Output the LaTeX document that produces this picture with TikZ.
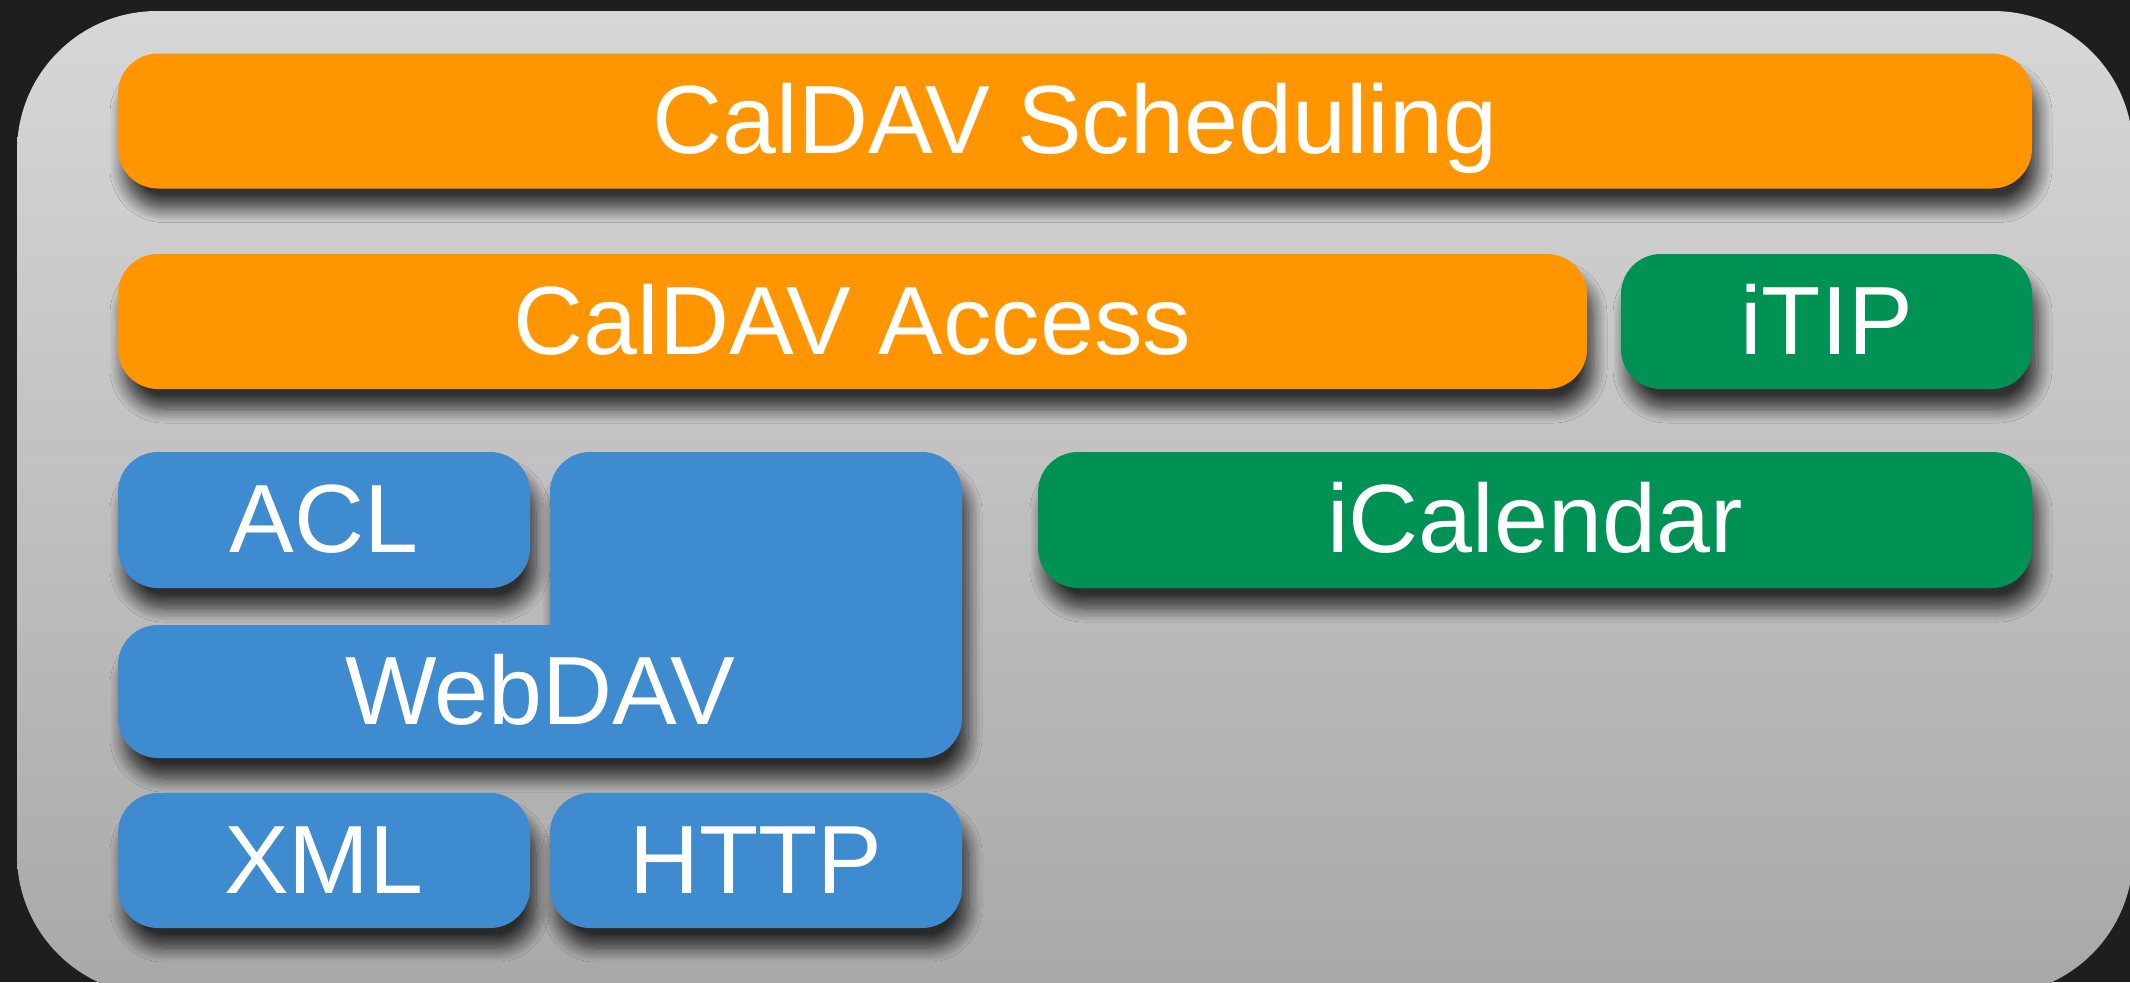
\documentclass[tikz,border=0pt]{standalone}
\usepackage{fontspec}
\setmainfont{Liberation Sans}
\usetikzlibrary{shadows.blur}
\definecolor{bgdark}{HTML}{1C1E20}
\definecolor{paneltop}{HTML}{D7D7D7}
\definecolor{panelbot}{HTML}{A8A8A8}
\definecolor{cdorange}{HTML}{FF9500}
\definecolor{cdgreen}{HTML}{009154}
\definecolor{cdblue}{HTML}{3F8BD0}
\tikzset{
  boxshadow/.style={blur shadow={shadow xshift=3pt, shadow yshift=-10pt, shadow blur radius=7pt, shadow opacity=75, shadow blur steps=12}},
  layer/.style={boxshadow, rounded corners=20pt, inner sep=0pt, text=white,
    font=\fontsize{48.5}{58}\selectfont, text height=32.7pt, text depth=0pt,
    minimum height=67.5pt},
  lbl/.style={inner sep=0pt, text=white, font=\fontsize{48.5}{58}\selectfont,
    text height=32.7pt, text depth=0pt},
}
\begin{document}
\begin{tikzpicture}[x=0.5pt,y=-0.5pt]
\useasboundingbox (0,0) rectangle (2130,982);
\clip (0,0) rectangle (2130,982);
\fill[bgdark] (0,0) rectangle (2130,982);
\fill[top color=paneltop, bottom color=panelbot, rounded corners=70pt]
  (17,11) rectangle (2133,995);
% layers
\node[layer, fill=cdorange, minimum width=957pt] (sched) at (1075,121) {CalDAV Scheduling};
\node[layer, fill=cdorange, minimum width=734.5pt] (access) at (852.5,321.5) {CalDAV Access};
\node[layer, fill=cdgreen, minimum width=205.5pt] (itip) at (1826.5,321.5) {iTIP};
\node[layer, fill=cdblue, minimum width=206pt, minimum height=68pt] (acl) at (324,520) {ACL};
\node[layer, fill=cdgreen, minimum width=497pt, minimum height=68pt] (ical) at (1535,520) {iCalendar};
\fill[cdblue, boxshadow, rounded corners=20pt]
  (550,625) -- (118,625) -- (118,758) -- (962,758) -- (962,452) -- (550,452) -- (550,625);
\node[lbl] (webdav) at (540,691.5) {WebDAV};
\node[layer, fill=cdblue, minimum width=206pt] (xml) at (324,860.5) {XML};
\node[layer, fill=cdblue, minimum width=206pt] (http) at (756,860.5) {HTTP};
\end{tikzpicture}
\end{document}
